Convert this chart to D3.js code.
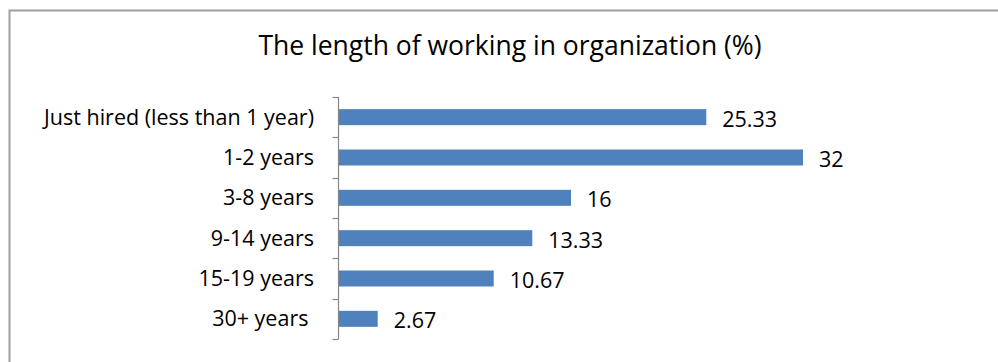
<!DOCTYPE html>
<html>
<head>
<meta charset="utf-8">
<script src="https://cdn.jsdelivr.net/npm/d3@7"></script>
<style>
  html, body { margin: 0; padding: 0; background: #fff; }
  svg { display: block; }
  text { font-family: "Open Sans", Lato, sans-serif; fill: #000; white-space: pre; }
</style>
</head>
<body>
<svg id="chart" width="998" height="362"></svg>
<script>
const categories = ["Just hired (less than 1 year)", "1-2 years", "3-8 years", "9-14 years", "15-19 years", "30+ years "];
const values = [25.33, 32, 16, 13.33, 10.67, 2.67];
const valueLabels = ["25.33", "32", "16", "13.33", "10.67", "2.67"];
const title = "The length of working in organization (%)";

const svg = d3.select("#chart");
const W = 998, H = 362;

// outer frame (right and bottom edges fall outside the view)
svg.append("rect")
  .attr("x", 9.5).attr("y", 10.5)
  .attr("width", W + 10).attr("height", H + 10)
  .attr("fill", "#fff").attr("stroke", "#a0a0a0").attr("stroke-width", 2);

svg.append("text")
  .attr("x", 510).attr("y", 55)
  .attr("text-anchor", "middle")
  .style("font-size", "26.5px")
  .text(title);

const x = d3.scaleLinear().domain([0, 35]).range([339, 846.5]);
const band = d3.scaleBand().domain(categories).range([97, 339]);

// bars
svg.selectAll("rect.bar")
  .data(categories)
  .join("rect")
  .attr("class", "bar")
  .attr("x", x(0))
  .attr("y", d => band(d) + band.bandwidth() / 2 - 8)
  .attr("width", (d, i) => x(values[i]) - x(0))
  .attr("height", 16)
  .attr("fill", "#4f81bd");

// category axis
const axisG = svg.append("g").attr("transform", `translate(${x(0) - 0.5},0)`);
axisG.append("line")
  .attr("x1", 0).attr("x2", 0).attr("y1", 97).attr("y2", 339)
  .attr("stroke", "#868686").attr("stroke-width", 1.2);
const tickYs = d3.range(categories.length + 1).map(i => 97 + i * band.step());
axisG.selectAll("line.tick")
  .data(tickYs)
  .join("line")
  .attr("class", "tick")
  .attr("x1", -6).attr("x2", 0)
  .attr("y1", d => Math.round(d) + 0.5).attr("y2", d => Math.round(d) + 0.5)
  .attr("stroke", "#868686").attr("stroke-width", 1.2);

svg.selectAll("text.cat")
  .data(categories)
  .join("text")
  .attr("class", "cat")
  .attr("x", 314)
  .attr("y", d => band(d) + band.bandwidth() / 2)
  .attr("dy", "0.35em")
  .attr("text-anchor", "end")
  .style("font-size", "21.5px")
  .text(d => d);

svg.selectAll("text.val")
  .data(categories)
  .join("text")
  .attr("class", "val")
  .attr("x", (d, i) => x(values[i]) + 16)
  .attr("y", d => band(d) + band.bandwidth() / 2 + 2)
  .attr("dy", "0.35em")
  .style("font-size", "21.5px")
  .text((d, i) => valueLabels[i]);
</script>
</body>
</html>
